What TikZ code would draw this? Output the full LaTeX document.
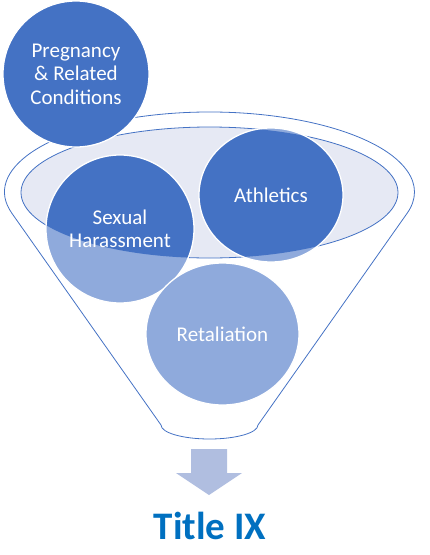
\documentclass[tikz,border=0pt]{standalone}
\usepackage{fontspec}
\setmainfont{Carlito}
\usetikzlibrary{shapes.geometric}
\definecolor{ixdark}{HTML}{4472C4}
\definecolor{ixlight}{HTML}{8FAADC}
\definecolor{ixrim}{HTML}{E6E9F4}
\definecolor{ixarrow}{HTML}{B0BEE0}
\definecolor{ixtitle}{HTML}{0070C0}

\begin{document}
\begin{tikzpicture}[
    x=1pt,
    y=1pt,
    every node/.style={font=\fontsize{21}{23.5}\selectfont},
    funnel/.style={draw=ixdark, line width=0.8pt},
    rim/.style={ellipse, draw=ixdark, line width=0.8pt, fill=ixrim, inner sep=0pt},
    bubble/.style={ellipse, fill=ixlight, draw=white, line width=1.3pt,
      text=white, align=center, inner sep=0pt},
    inrim/.style={path picture={
      \fill[ixdark] (rim.center) ellipse [x radius=188.5, y radius=65.5];}},
    drop/.style={fill=ixarrow}
  ]
    \useasboundingbox (0,0) rectangle (430,-555);

    % funnel body
    \coordinate (mouth) at (209.5,-192);
    \draw[funnel] (mouth) ++(195.4:205 and 80)
      arc[start angle=195.4, end angle=-15.4, x radius=205, y radius=80]
      -- (258,-425)
      arc[start angle=0, end angle=-180, x radius=48.5, y radius=14]
      -- cycle;
    \node[rim, minimum width=377pt, minimum height=131pt] (rim) at (209.5,-192.5) {};

    % items in the funnel
    \node[bubble, inrim, minimum size=148pt] (harass) at (120,-229) {Sexual\\Harassment};
    \node[bubble, inrim, minimum width=144pt, minimum height=134pt] (athl) at (271,-195) {Athletics};
    \node[bubble, minimum width=153pt, minimum height=142pt] (retal) at (222.5,-334) {Retaliation};

    % item above the funnel
    \node[bubble, fill=ixdark, minimum size=146pt] (preg) at (76,-74)
      {Pregnancy\\\& Related\\Conditions};

    % output
    \fill[drop] (191,-449) -- (227,-449) -- (227,-473) -- (242,-473)
      -- (209,-495) -- (176,-473) -- (191,-473) -- cycle;
    \node[font=\fontsize{39}{44}\selectfont\bfseries, text=ixtitle, anchor=base]
      (title) at (210,-539) {Title IX};
  \end{tikzpicture}
\end{document}
